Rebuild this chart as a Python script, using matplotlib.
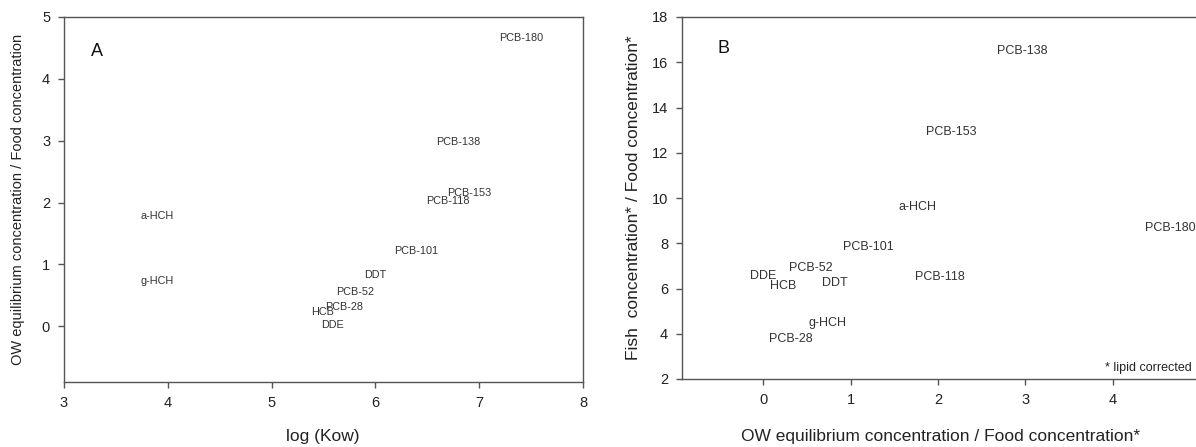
import matplotlib
matplotlib.use("Agg")
import matplotlib.pyplot as plt

plt.rcParams['font.family'] = ['Liberation Sans', 'DejaVu Sans']

compounds_a = ["a-HCH", "g-HCH", "PCB-180", "PCB-138", "PCB-153", "PCB-118",
               "PCB-101", "DDT", "PCB-52", "PCB-28", "HCB", "DDE"]
log_kow = [3.90, 3.90, 7.40, 6.80, 6.90, 6.70, 6.39, 6.00, 5.80, 5.70, 5.49, 5.59]
ow_food = [1.78, 0.74, 4.66, 2.98, 2.15, 2.02, 1.21, 0.83, 0.55, 0.32, 0.23, 0.02]

compounds_b = ["PCB-138", "PCB-153", "a-HCH", "PCB-180", "PCB-118", "PCB-101",
               "PCB-52", "DDE", "HCB", "DDT", "g-HCH", "PCB-28"]
ow_food_lipid = [2.97, 2.15, 1.77, 4.66, 2.02, 1.20, 0.55, 0.00, 0.23, 0.82, 0.74, 0.32]
fish_food = [16.5, 12.9, 9.6, 8.67, 6.5, 7.82, 6.9, 6.54, 6.1, 6.23, 4.46, 3.75]

W, H = 1196, 447
fig = plt.figure(figsize=(W / 100, H / 100), dpi=100)

spine_c = '#555555'
text_c = '#333333'

def style(ax):
    for s in ax.spines.values():
        s.set_color(spine_c)
        s.set_linewidth(1.0)
    ax.tick_params(direction='out', length=4, width=1.0, color=spine_c,
                   labelsize=10.5, labelcolor='#222222', pad=6)

# Panel A
axA = fig.add_axes([64 / W, 1 - 382 / H, (583 - 64) / W, (382 - 17) / H])
axA.set_xlim(3, 8)
axA.set_ylim(-0.9, 5)
axA.set_xticks([3, 4, 5, 6, 7, 8])
axA.set_yticks([0, 1, 2, 3, 4, 5])
style(axA)
for name, x, y in zip(compounds_a, log_kow, ow_food):
    axA.text(x, y, name, ha='center', va='center', fontsize=7.8, color=text_c)
axA.text(0.064, 0.905, "A", transform=axA.transAxes, fontsize=13,
         ha='center', va='center', color='#111111')
fig.text(323 / W, 1 - 436 / H, "log (Kow)", ha='center', va='center',
         fontsize=12.5, color='#222222')
axA.set_ylabel("OW equilibrium concentration / Food concentration",
               fontsize=10.5, color='#222222', labelpad=12)

# Panel B
axB = fig.add_axes([682 / W, 1 - 379 / H, (1200 - 682) / W, (379 - 17) / H])
axB.set_xlim(-0.93, 5.0)
axB.set_ylim(2, 18)
axB.set_xticks([0, 1, 2, 3, 4])
axB.set_yticks(list(range(2, 19, 2)))
style(axB)
for name, x, y in zip(compounds_b, ow_food_lipid, fish_food):
    axB.text(x, y, name, ha='center', va='center', fontsize=9, color=text_c,
             clip_on=False)
axB.text(0.081, 0.914, "B", transform=axB.transAxes, fontsize=13,
         ha='center', va='center', color='#111111')
fig.text(941 / W, 1 - 436 / H,
         "OW equilibrium concentration / Food concentration*",
         ha='center', va='center', fontsize=12.5, color='#222222')
axB.set_ylabel("Fish  concentration* / Food concentration*",
               fontsize=12.5, color='#222222', labelpad=8)
fig.text(1192 / W, 1 - 368 / H, "* lipid corrected", ha='right', va='center',
         fontsize=9, color='#222222')

fig.savefig("out.png", dpi=100)
